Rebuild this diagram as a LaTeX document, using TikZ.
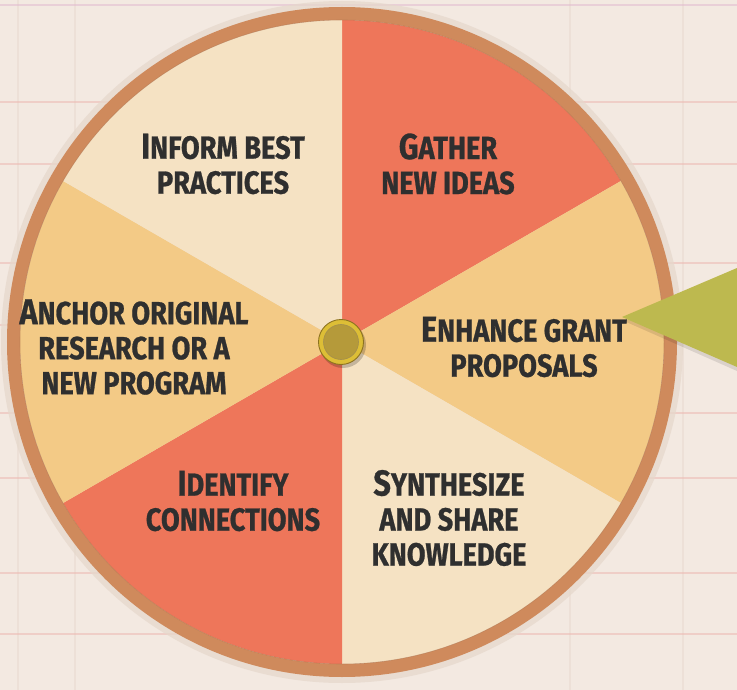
\documentclass[tikz,border=0pt]{standalone}
\usepackage{fontspec}
\newfontfamily\labfont{Fira Sans Bold}[FakeStretch=0.85,FakeBold=0.8]
\definecolor{paper}{HTML}{F3E9E1}
\definecolor{gridh}{HTML}{EDB9B2}
\definecolor{gridv}{HTML}{EBDDD4}
\definecolor{cred}{HTML}{EE765A}
\definecolor{corange}{HTML}{F3CA86}
\definecolor{ccream}{HTML}{F5E2C3}
\definecolor{ring}{HTML}{CF8A5C}
\definecolor{halo}{HTML}{E6D8CC}
\definecolor{olive}{HTML}{BDB94F}
\definecolor{txt}{HTML}{2F2F2F}
\definecolor{goldrim}{HTML}{DDBE36}
\definecolor{goldface}{HTML}{B59A3A}
\definecolor{golddark}{HTML}{8C7220}
\newcommand\capL[1]{{\fontsize{36}{35}\selectfont #1}}
\newcommand\wslice[3]{\fill[#3] (342,342) -- ++(#1:322) arc[start angle=#1, end angle=#2, radius=322] -- cycle;}
\tikzset{
  lab/.style={text=txt, align=center, font=\labfont\fontsize{32}{35}\selectfont, inner sep=0pt},
  hline/.style={gridh, line width=1.3pt, opacity=0.55},
  vline/.style={gridv, line width=1.1pt, opacity=0.7}
}
\begin{document}
\begin{tikzpicture}[x=1pt,y=-1pt]
\useasboundingbox (0,0) rectangle (737,690);
\fill[paper] (0,0) rectangle (737,690);
% grid
\foreach \xx in {18,75,570,683} \draw[vline] (\xx,0) -- (\xx,690);
\foreach \yy in {102,164,263,325,413,478,573,634} \draw[hline] (0,\yy) -- (737,\yy);
\draw[gridh!60!violet!50, line width=1.5pt, opacity=0.5] (0,5) -- (737,5);
% halo and wheel
\fill[halo, opacity=0.75] (342,342) circle[radius=341];
\wslice{-90}{-30}{cred}
\wslice{-30}{30}{corange}
\wslice{30}{90}{ccream}
\wslice{90}{150}{cred}
\wslice{150}{210}{corange}
\wslice{210}{270}{ccream}
\draw[ring, line width=13pt] (342,342) circle[radius=328.5];
\draw[ring!80!black, line width=0.6pt, opacity=0.4] (342,342) circle[radius=322];
% pointer
\fill[black, opacity=0.1] (624,321) -- (737,272) -- (737,371) -- cycle;
\fill[olive] (622,317) -- (737,268) -- (737,367) -- cycle;
% pin
\fill[black, opacity=0.2] (343,345) circle[radius=23];
\fill[goldrim] (341,342) circle[radius=22.5];
\draw[golddark, line width=0.9pt] (341,342) circle[radius=22.5];
\fill[goldface] (341,342) circle[radius=17.5];
\draw[golddark!80, line width=0.6pt] (341,342) circle[radius=17.5];
% labels
\node[lab] (inform) at (223,164) {\capL{I}NFORM BEST\\PRACTICES};
\node[lab] (gather) at (448,164) {\capL{G}ATHER\\NEW IDEAS};
\node[lab] (enhance) at (524,347) {\capL{E}NHANCE GRANT\\PROPOSALS};
\node[lab] (anchor) at (134,347) {\capL{A}NCHOR ORIGINAL\\RESEARCH OR A\\NEW PROGRAM};
\node[lab] (identify) at (233,501) {\capL{I}DENTIFY\\CONNECTIONS};
\node[lab] (synth) at (449,518) {\capL{S}YNTHESIZE\\AND SHARE\\KNOWLEDGE};
\end{tikzpicture}
\end{document}
